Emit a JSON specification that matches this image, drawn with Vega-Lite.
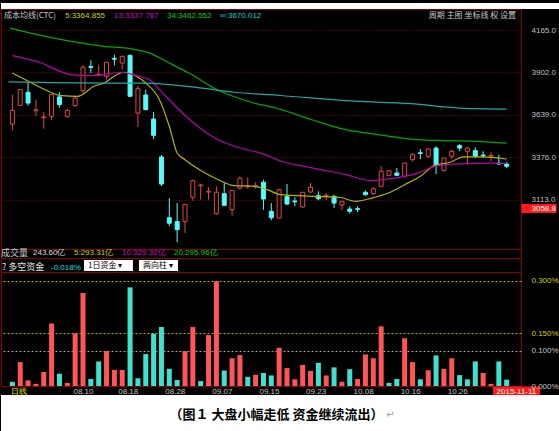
{
  "$schema": "https://vega.github.io/schema/vega-lite/v6.json",
  "background": "black",
  "padding": 0,
  "spacing": 0,
  "bounds": "flush",
  "config": {
    "view": {"stroke": "#8b0000", "strokeWidth": 1},
    "font": "Liberation Sans"
  },
  "resolve": {
    "scale": {"x": "independent", "y": "independent", "color": "independent"},
    "legend": {"color": "independent"}
  },
  "datasets": {
    "blank": [{"t": ""}],
    "candles": [
      {"i":0,"o":3582,"h":3764,"l":3543,"c":3667},
      {"i":1,"o":3698,"h":3799,"l":3694,"c":3795},
      {"i":2,"o":3779,"h":3843,"l":3696,"c":3712},
      {"i":3,"o":3664,"h":3733,"l":3630,"c":3670},
      {"i":4,"o":3621,"h":3655,"l":3553,"c":3626},
      {"i":5,"o":3630,"h":3764,"l":3605,"c":3764},
      {"i":6,"o":3750,"h":3779,"l":3683,"c":3702},
      {"i":7,"o":3630,"h":3675,"l":3619,"c":3667},
      {"i":8,"o":3696,"h":3754,"l":3690,"c":3743},
      {"i":9,"o":3789,"h":3946,"l":3774,"c":3934},
      {"i":10,"o":3938,"h":3977,"l":3898,"c":3933},
      {"i":11,"o":3885,"h":3950,"l":3878,"c":3890},
      {"i":12,"o":3878,"h":3968,"l":3857,"c":3965},
      {"i":13,"o":3989,"h":4012,"l":3946,"c":3984},
      {"i":14,"o":3960,"h":4006,"l":3919,"c":4002},
      {"i":15,"o":4008,"h":4012,"l":3754,"c":3754},
      {"i":16,"o":3650,"h":3820,"l":3564,"c":3801},
      {"i":17,"o":3762,"h":3795,"l":3667,"c":3671},
      {"i":18,"o":3613,"h":3657,"l":3489,"c":3512},
      {"i":19,"o":3378,"h":3390,"l":3198,"c":3210},
      {"i":20,"o":3001,"h":3123,"l":2948,"c":2967},
      {"i":21,"o":2977,"h":3092,"l":2849,"c":2927},
      {"i":22,"o":2977,"h":3086,"l":2906,"c":3084},
      {"i":23,"o":3128,"h":3237,"l":3107,"c":3231},
      {"i":24,"o":3199,"h":3212,"l":3113,"c":3204},
      {"i":25,"o":3160,"h":3190,"l":3113,"c":3165},
      {"i":26,"o":3026,"h":3196,"l":3020,"c":3159},
      {"i":27,"o":3150,"h":3216,"l":3072,"c":3078},
      {"i":28,"o":3051,"h":3173,"l":3014,"c":3171},
      {"i":29,"o":3185,"h":3258,"l":3175,"c":3246},
      {"i":30,"o":3193,"h":3252,"l":3181,"c":3198},
      {"i":31,"o":3194,"h":3221,"l":3181,"c":3199},
      {"i":32,"o":3221,"h":3237,"l":3051,"c":3117},
      {"i":33,"o":3041,"h":3092,"l":2985,"c":3001},
      {"i":34,"o":2999,"h":3178,"l":2997,"c":3175},
      {"i":35,"o":3134,"h":3210,"l":3080,"c":3086},
      {"i":36,"o":3105,"h":3128,"l":3072,"c":3100},
      {"i":37,"o":3068,"h":3160,"l":3061,"c":3159},
      {"i":38,"o":3161,"h":3216,"l":3154,"c":3190},
      {"i":39,"o":3138,"h":3165,"l":3109,"c":3119},
      {"i":40,"o":3135,"h":3154,"l":3109,"c":3140},
      {"i":41,"o":3134,"h":3144,"l":3061,"c":3092},
      {"i":42,"o":3080,"h":3104,"l":3047,"c":3103},
      {"i":43,"o":3055,"h":3072,"l":3026,"c":3041},
      {"i":44,"o":3057,"h":3072,"l":3037,"c":3053},
      {"i":45,"o":3159,"h":3169,"l":3138,"c":3144},
      {"i":46,"o":3150,"h":3190,"l":3144,"c":3181},
      {"i":47,"o":3196,"h":3320,"l":3196,"c":3289},
      {"i":48,"o":3264,"h":3293,"l":3258,"c":3293},
      {"i":49,"o":3278,"h":3309,"l":3258,"c":3264},
      {"i":50,"o":3258,"h":3340,"l":3254,"c":3340},
      {"i":51,"o":3361,"h":3402,"l":3351,"c":3392},
      {"i":52,"o":3404,"h":3427,"l":3365,"c":3400},
      {"i":53,"o":3382,"h":3433,"l":3371,"c":3427},
      {"i":54,"o":3433,"h":3444,"l":3272,"c":3324},
      {"i":55,"o":3295,"h":3371,"l":3285,"c":3371},
      {"i":56,"o":3382,"h":3423,"l":3365,"c":3413},
      {"i":57,"o":3448,"h":3458,"l":3413,"c":3433},
      {"i":58,"o":3413,"h":3440,"l":3330,"c":3433},
      {"i":59,"o":3417,"h":3438,"l":3371,"c":3382},
      {"i":60,"o":3390,"h":3413,"l":3371,"c":3386},
      {"i":61,"o":3383,"h":3407,"l":3351,"c":3388},
      {"i":62,"o":3340,"h":3392,"l":3330,"c":3334},
      {"i":63,"o":3334,"h":3347,"l":3309,"c":3320}
    ],
    "ma": [
      {"s":"5","i":0,"p":3898},{"s":"5","i":1.67,"p":3857},{"s":"5","i":4.17,"p":3795},{"s":"5","i":6.25,"p":3758},
      {"s":"5","i":8.33,"p":3754},{"s":"5","i":10.4,"p":3816},{"s":"5","i":11.67,"p":3836},{"s":"5","i":13.3,"p":3888},
      {"s":"5","i":14.17,"p":3903},{"s":"5","i":15.8,"p":3878},{"s":"5","i":17,"p":3836},{"s":"5","i":18.75,"p":3733},
      {"s":"5","i":20,"p":3568},{"s":"5","i":21,"p":3402},{"s":"5","i":22,"p":3361},{"s":"5","i":24.17,"p":3289},
      {"s":"5","i":26.25,"p":3237},{"s":"5","i":28.3,"p":3200},{"s":"5","i":30.8,"p":3196},{"s":"5","i":32.5,"p":3175},
      {"s":"5","i":34.17,"p":3144},{"s":"5","i":38.3,"p":3134},{"s":"5","i":41.67,"p":3128},{"s":"5","i":43.75,"p":3103},
      {"s":"5","i":45.8,"p":3123},{"s":"5","i":47.9,"p":3154},{"s":"5","i":50,"p":3206},{"s":"5","i":52,"p":3258},
      {"s":"5","i":53.75,"p":3324},{"s":"5","i":55.8,"p":3345},{"s":"5","i":57.5,"p":3378},{"s":"5","i":60,"p":3378},
      {"s":"5","i":63,"p":3365},
      {"s":"13","i":0,"p":4006},{"s":"13","i":3.3,"p":3967},{"s":"13","i":7.5,"p":3888},{"s":"13","i":9.5,"p":3882},
      {"s":"13","i":11.67,"p":3888},{"s":"13","i":13.75,"p":3903},{"s":"13","i":15.8,"p":3882},{"s":"13","i":17.5,"p":3857},
      {"s":"13","i":19.17,"p":3774},{"s":"13","i":21.67,"p":3650},{"s":"13","i":25.8,"p":3495},{"s":"13","i":28.3,"p":3444},
      {"s":"13","i":30,"p":3421},{"s":"13","i":31.67,"p":3402},{"s":"13","i":34.17,"p":3353},{"s":"13","i":38.3,"p":3309},
      {"s":"13","i":42.5,"p":3268},{"s":"13","i":45.8,"p":3231},{"s":"13","i":48.75,"p":3247},{"s":"13","i":51.7,"p":3278},
      {"s":"13","i":54.2,"p":3324},{"s":"13","i":57.5,"p":3336},{"s":"13","i":60.8,"p":3340},{"s":"13","i":63,"p":3338},
      {"s":"34","i":-0.3,"p":4177},{"s":"34","i":2.29,"p":4146},{"s":"34","i":7.5,"p":4095},{"s":"34","i":11.67,"p":4064},
      {"s":"34","i":15,"p":4049},{"s":"34","i":17.5,"p":4022},{"s":"34","i":20,"p":3960},{"s":"34","i":22.5,"p":3898},
      {"s":"34","i":26.25,"p":3791},{"s":"34","i":30,"p":3723},{"s":"34","i":34.17,"p":3673},{"s":"34","i":38.3,"p":3607},
      {"s":"34","i":42.5,"p":3547},{"s":"34","i":46.67,"p":3516},{"s":"34","i":50.8,"p":3489},{"s":"34","i":55,"p":3479},
      {"s":"34","i":59.17,"p":3475},{"s":"34","i":63,"p":3463},
      {"s":"∞","i":-0.5,"p":3843},{"s":"∞","i":11.67,"p":3836},{"s":"∞","i":16.67,"p":3836},{"s":"∞","i":24.17,"p":3805},
      {"s":"∞","i":28.3,"p":3779},{"s":"∞","i":34.17,"p":3759},{"s":"∞","i":42.5,"p":3727},{"s":"∞","i":50.8,"p":3708},
      {"s":"∞","i":57,"p":3681},{"s":"∞","i":63,"p":3675}
    ],
    "vol": [{"k":"243.60亿"},{"k":"5:293.31亿"},{"k":"10:329.32亿"},{"k":"20:295.96亿"}],
    "dk": [{"k":"-0.018%"},{"k":"1日资金  ▾"},{"k":"两向柱  ▾"}],
    "flow": [
      {"i":0,"v":0.012,"d":"d"},{"i":1,"v":0.068,"d":"u"},{"i":2,"v":0.016,"d":"u"},{"i":3,"v":0.006,"d":"u"},
      {"i":4,"v":0.040,"d":"u"},{"i":5,"v":0.178,"d":"u"},{"i":6,"v":0.035,"d":"d"},{"i":7,"v":0.009,"d":"u"},
      {"i":8,"v":0.150,"d":"u"},{"i":9,"v":0.265,"d":"u"},{"i":10,"v":0.020,"d":"d"},{"i":11,"v":0.070,"d":"d"},
      {"i":12,"v":0.100,"d":"u"},{"i":13,"v":0.046,"d":"u"},{"i":14,"v":0.046,"d":"u"},{"i":15,"v":0.281,"d":"d"},
      {"i":16,"v":0.022,"d":"d"},{"i":17,"v":0.091,"d":"d"},{"i":18,"v":0.149,"d":"d"},{"i":19,"v":0.168,"d":"d"},
      {"i":20,"v":0.049,"d":"d"},{"i":21,"v":0.017,"d":"d"},{"i":22,"v":0.099,"d":"u"},{"i":23,"v":0.168,"d":"u"},
      {"i":24,"v":0.014,"d":"d"},{"i":25,"v":0.145,"d":"u"},{"i":26,"v":0.298,"d":"u"},{"i":27,"v":0.044,"d":"d"},
      {"i":28,"v":0.079,"d":"u"},{"i":29,"v":0.088,"d":"u"},{"i":30,"v":0.026,"d":"d"},{"i":31,"v":0.032,"d":"u"},
      {"i":32,"v":0.037,"d":"d"},{"i":33,"v":0.030,"d":"d"},{"i":34,"v":0.109,"d":"u"},{"i":35,"v":0.051,"d":"u"},
      {"i":36,"v":0.019,"d":"u"},{"i":37,"v":0.060,"d":"u"},{"i":38,"v":0.043,"d":"u"},{"i":39,"v":0.066,"d":"d"},
      {"i":40,"v":0.030,"d":"u"},{"i":41,"v":0.053,"d":"d"},{"i":42,"v":0.012,"d":"u"},{"i":43,"v":0.048,"d":"d"},
      {"i":44,"v":0.020,"d":"u"},{"i":45,"v":0.090,"d":"u"},{"i":46,"v":0.079,"d":"u"},{"i":47,"v":0.170,"d":"u"},
      {"i":48,"v":0.009,"d":"d"},{"i":49,"v":0.020,"d":"d"},{"i":50,"v":0.136,"d":"u"},{"i":51,"v":0.068,"d":"u"},
      {"i":52,"v":0.019,"d":"d"},{"i":53,"v":0.045,"d":"u"},{"i":54,"v":0.087,"d":"d"},{"i":55,"v":0.049,"d":"u"},
      {"i":56,"v":0.079,"d":"u"},{"i":57,"v":0.031,"d":"d"},{"i":58,"v":0.019,"d":"d"},{"i":59,"v":0.070,"d":"d"},
      {"i":60,"v":0.037,"d":"u"},{"i":61,"v":0.006,"d":"u"},{"i":62,"v":0.070,"d":"d"},{"i":63,"v":0.018,"d":"d"}
    ],
    "cap": [{"t":"（图１ 大盘小幅走低 资金继续流出）","m":"↵"}]
  },
  "vconcat": [
    {
      "width": 559, "height": 6,
      "view": {"fill": "white", "stroke": null},
      "data": {"name": "blank"},
      "mark": {"type": "text"},
      "encoding": {"text": {"field": "t"}}
    },
    {
      "width": 520, "height": 240,
      "view": {"fill": "black", "stroke": "#8b0000"},
      "title": {"text": "周期  主图  坐标线  权  设置", "orient": "top", "anchor": "end", "frame": "group", "offset": -15, "dx": -5, "baseline": "middle", "color": "#c8c8c8", "font": "Noto Sans CJK SC", "fontSize": 8, "fontWeight": "normal"},
      "layer": [
        {
          "data": {"name": "candles"},
          "mark": {"type": "rule", "strokeWidth": 1},
          "encoding": {
            "x": {"field": "i", "type": "quantitative", "scale": {"domain": [-0.8125, 64.1875], "nice": false, "zero": false}, "axis": null},
            "y": {"field": "l", "type": "quantitative", "scale": {"domain": [2807.2, 4295.2], "nice": false, "zero": false},
              "axis": {"orient": "right", "title": null, "values": [3058.8, 3113, 3376, 3639, 3902, 4165], "format": ".1f",
                "domain": false, "ticks": true, "tickSize": 35,
                "tickColor": {"condition": {"test": "datum.value == 3058.8", "value": "#ff1a1a"}, "value": "transparent"},
                "tickWidth": {"condition": {"test": "datum.value == 3058.8", "value": 9}, "value": 1},
                "labelPadding": -25, "labelAlign": "left", "labelBaseline": "middle", "labelFlush": false,
                "labelColor": {"condition": {"test": "datum.value == 3058.8", "value": "#ffffff"}, "value": "#c0c0c0"},
                "labelFont": "Liberation Sans", "labelFontSize": 8,
                "grid": true, "gridColor": "#8b0000", "gridDash": [1, 2],
                "gridOpacity": {"condition": {"test": "datum.value == 3058.8", "value": 0}, "value": 1}}},
            "y2": {"field": "h"},
            "color": {"condition": {"test": "datum.c >= datum.o", "value": "#e04848"}, "value": "#54fcfc"}
          }
        },
        {
          "data": {"name": "candles"},
          "mark": {"type": "bar", "size": 4, "strokeWidth": 1},
          "encoding": {
            "x": {"field": "i", "type": "quantitative", "scale": {"domain": [-0.8125, 64.1875], "nice": false, "zero": false}},
            "y": {"field": "o", "type": "quantitative", "scale": {"domain": [2807.2, 4295.2], "nice": false, "zero": false}},
            "y2": {"field": "c"},
            "fill": {"condition": {"test": "datum.c >= datum.o", "value": "#000000"}, "value": "#54fcfc"},
            "stroke": {"condition": {"test": "datum.c >= datum.o", "value": "#e04848"}, "value": "#54fcfc"}
          }
        },
        {
          "data": {"name": "ma"},
          "mark": {"type": "line", "strokeWidth": 1.2, "interpolate": "monotone"},
          "encoding": {
            "x": {"field": "i", "type": "quantitative", "scale": {"domain": [-0.8125, 64.1875], "nice": false, "zero": false}},
            "y": {"field": "p", "type": "quantitative", "scale": {"domain": [2807.2, 4295.2], "nice": false, "zero": false}},
            "color": {"field": "s", "type": "nominal",
              "scale": {"domain": ["5", "13", "34", "∞"], "range": ["#b4b400", "#b400b4", "#00a800", "#20a8a8"]},
              "legend": {"orient": "top-left", "direction": "horizontal", "offset": 3, "padding": 0,
                "title": "成本均线(CTC)", "titleOrient": "left", "titleColor": "#c8c8c8", "titleFont": "Noto Sans CJK SC",
                "titleFontSize": 8, "titleFontWeight": "normal", "titlePadding": 9,
                "labelExpr": "datum.value == '5' ? '5:3364.855' : datum.value == '13' ? '13:3337.767' : datum.value == '34' ? '34:3462.552' : '∞:3670.012'",
                "labelFont": "Liberation Sans", "labelFontSize": 8,
                "symbolSize": 0, "symbolOpacity": 0, "symbolStrokeWidth": 0, "labelOffset": -9, "columnPadding": 8,
                "encode": {"labels": {"update": {"fill": {"signal": "datum.value == '5' ? '#d2d200' : datum.value == '13' ? '#d200d2' : datum.value == '34' ? '#00d200' : '#00d2d2'"}}}}}
            }
          }
        }
      ]
    },
    {
      "width": 520, "height": 9,
      "view": {"fill": "black", "stroke": "#8b0000"},
      "data": {"name": "vol"},
      "mark": {"type": "text", "text": ""},
      "encoding": {
        "color": {"field": "k", "type": "nominal",
          "scale": {"domain": ["243.60亿", "5:293.31亿", "10:329.32亿", "20:295.96亿"], "range": ["#dcdcdc", "#d2d200", "#d200d2", "#00d200"]},
          "legend": {"orient": "top-left", "direction": "horizontal", "offset": 0, "padding": 0,
            "title": "成交量", "titleOrient": "left", "titleColor": "#c8c8c8", "titleFont": "Noto Sans CJK SC",
            "titleFontSize": 9, "titleFontWeight": "normal", "titlePadding": 5,
            "labelFont": "Liberation Sans", "labelFontSize": 8,
            "symbolSize": 0, "symbolOpacity": 0, "symbolStrokeWidth": 0, "labelOffset": -9, "columnPadding": 8,
            "encode": {"labels": {"update": {"fill": {"signal": "['#dcdcdc','#d2d200','#d200d2','#00d200'][indexof(['243.60亿','5:293.31亿','10:329.32亿','20:295.96亿'], datum.value)]"}}}}}
        }
      }
    },
    {
      "width": 520, "height": 14,
      "view": {"fill": "black", "stroke": "#8b0000"},
      "data": {"name": "dk"},
      "mark": {"type": "text", "text": ""},
      "encoding": {
        "color": {"field": "k", "type": "nominal",
          "scale": {"domain": ["-0.018%", "1日资金  ▾", "两向柱  ▾"], "range": ["#000000", "#ffffff", "#ffffff"]},
          "legend": {"orient": "top-left", "direction": "horizontal", "offset": 1, "padding": 0,
            "title": "? 多空资金", "titleOrient": "left", "titleColor": "#e6e6e6", "titleFont": "Noto Sans CJK SC",
            "titleFontSize": 9, "titleFontWeight": "normal", "titlePadding": 1,
            "labelFont": "Noto Sans CJK SC", "labelFontSize": 8,
            "symbolSize": 121, "labelOffset": -8, "columnPadding": 0,
            "encode": {
              "symbols": {"update": {
                "shape": {"signal": "datum.value == '-0.018%' ? 'M0,-0.1H0.1V0.1H0Z' : datum.value == '两向柱  ▾' ? 'M-1,-1H6.1V1H-1Z' : 'M-1,-1H7.9V1H-1Z'"},
                "stroke": {"value": "transparent"},
                "opacity": {"value": 1}}},
              "labels": {"update": {
                "fill": {"signal": "datum.value == '-0.018%' ? '#00e0e0' : '#000000'"},
                "font": {"signal": "datum.value == '-0.018%' ? 'Liberation Sans' : 'Noto Sans CJK SC'"}}}
            }}
        }
      }
    },
    {
      "width": 520, "height": 114,
      "view": {"fill": "black", "stroke": "#8b0000"},
      "data": {"name": "flow"},
      "mark": {"type": "bar", "size": 5},
      "encoding": {
        "x": {"field": "i", "type": "quantitative", "scale": {"domain": [-0.8125, 64.1875], "nice": false, "zero": false},
          "axis": {"orient": "bottom", "title": null, "values": [0.75, 9, 14.7, 20.7, 26.7, 32.7, 38.65, 44.7, 50.7, 56.7, 64.18],
            "labelExpr": "datum.value == 0.75 ? '日线' : datum.value == 9 ? '08.10' : datum.value == 14.7 ? '08.18' : datum.value == 20.7 ? '08.28' : datum.value == 26.7 ? '09.07' : datum.value == 32.7 ? '09.15' : datum.value == 38.65 ? '09.23' : datum.value == 44.7 ? '10.08' : datum.value == 50.7 ? '10.16' : datum.value == 56.7 ? '10.26' : '2015-11-11'",
            "domain": false, "grid": false, "tickSize": 9,
            "tickColor": {"condition": {"test": "datum.value == 64.18", "value": "#ff1a1a"}, "value": "transparent"},
            "tickWidth": {"condition": {"test": "datum.value == 64.18", "value": 47}, "value": 1},
            "labelPadding": -8, "labelBaseline": "top", "labelFlush": false, "labelOverlap": false, "labelBound": false,
            "labelColor": {"condition": [{"test": "datum.value == 64.18", "value": "#ffffff"}, {"test": "datum.value == 0.75", "value": "#e6e600"}], "value": "#c0c0c0"},
            "labelFont": "Liberation Sans", "labelFontSize": 8}},
        "y": {"field": "v", "type": "quantitative", "scale": {"domain": [0, 0.3248], "nice": false, "zero": true},
          "axis": {"orient": "right", "title": null, "values": [0, 0.1, 0.15, 0.3],
            "labelExpr": "format(datum.value, '.3f') + '%'",
            "domain": false, "ticks": false, "labelPadding": 10, "labelAlign": "left", "labelFlush": false,
            "labelColor": {"condition": {"test": "datum.value == 0.3 || datum.value == 0.15", "value": "#d2d200"}, "value": "#c8c8c8"},
            "labelFont": "Liberation Sans", "labelFontSize": 8,
            "grid": true, "gridDash": [2, 2],
            "gridColor": {"condition": {"test": "datum.value == 0.1", "value": "#a0a0a0"}, "value": "#b4b400"},
            "gridOpacity": {"condition": {"test": "datum.value == 0", "value": 0}, "value": 1}}},
        "color": {"field": "d", "type": "nominal", "scale": {"domain": ["u", "d"], "range": ["#ff5555", "#40e0d0"]}, "legend": null}
      }
    },
    {
      "width": 520, "height": 9,
      "view": {"fill": null, "stroke": null},
      "data": {"name": "blank"},
      "mark": {"type": "text"},
      "encoding": {"text": {"field": "t"}}
    },
    {
      "width": 559, "height": 39,
      "view": {"fill": "white", "stroke": null},
      "data": {"name": "cap"},
      "layer": [
        {"mark": {"type": "text", "font": "Noto Sans CJK SC", "fontSize": 13, "fontWeight": "bold", "color": "#000000", "dx": -4},
         "encoding": {"text": {"field": "t"}}},
        {"mark": {"type": "text", "font": "DejaVu Sans", "fontSize": 10, "color": "#a0a0a0", "dx": 110},
         "encoding": {"text": {"field": "m"}}}
      ]
    }
  ]
}
